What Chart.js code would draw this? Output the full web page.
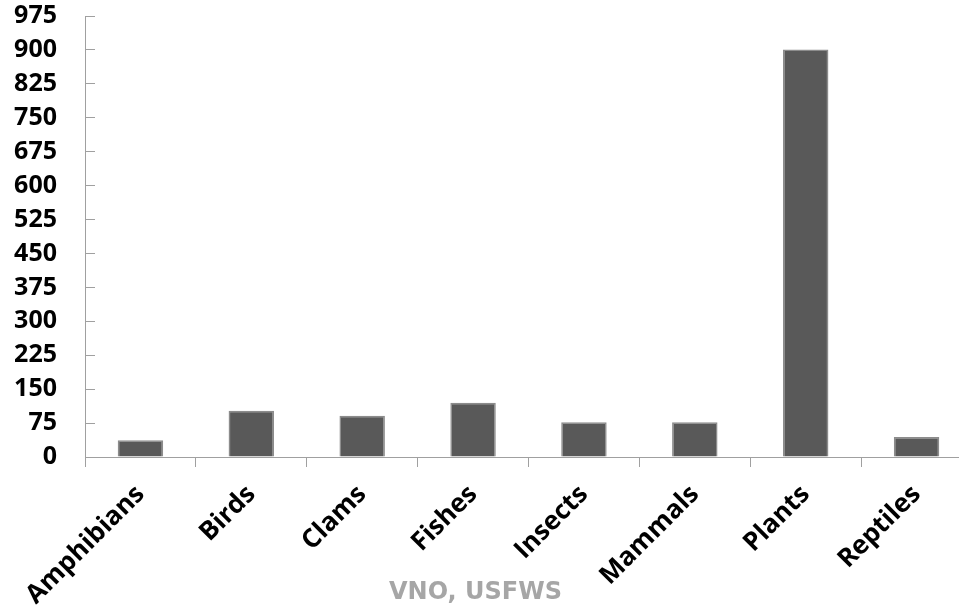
<!DOCTYPE html>
<html>
<head>
<meta charset="utf-8">
<script src="https://cdn.jsdelivr.net/npm/chart.js@4"></script>
<style>
  html, body { margin: 0; padding: 0; background: #fff; overflow: hidden; }
  #wrap { width: 975px; height: 605px; }
</style>
</head>
<body>
<div id="wrap"><canvas id="myChart"></canvas></div>
<script>
const categorias = ['Amphibians', 'Birds', 'Clams', 'Fishes', 'Insects', 'Mammals', 'Plants', 'Reptiles'];
const especies = [37, 102, 91, 120, 77, 77, 901, 44];
const yMin = 0;
const yMax = 975;
const yPaso = 75;
const fuente = '"Open Sans", Lato, sans-serif';

const ctx = document.getElementById('myChart');

// barras grises, eje y con marcas hacia adentro
window.chart = new Chart(ctx.getContext('2d'), {
    type: 'bar',
    data: {
        labels: categorias,
        datasets: [{
            data: especies,
            backgroundColor: '#595959',
            borderColor: '#8c8c8c',
            borderWidth: 1.5,
            categoryPercentage: 1,
            barPercentage: 0.41
        }]
    },
    options: {
        responsive: true,
        maintainAspectRatio: false,
        animation: false,
        layout: { padding: { top: 16, right: 3, left: -21, bottom: 0 } },
        plugins: {
            legend: { display: false },
            tooltip: { enabled: false },
            title: {
                display: true,
                position: 'bottom',
                text: 'VNO, USFWS',
                color: '#a6a6a6',
                font: { family: '"DejaVu Sans", sans-serif', size: 24, weight: 'bold' },
                padding: { top: -26, bottom: -2.4 }
            }
        },
        scales: {
            x: {
                grid: {
                    offset: true,
                    drawOnChartArea: false,
                    tickLength: 10,
                    color: '#a0a0a0'
                },
                border: { color: '#a0a0a0', width: 1 },
                ticks: {
                    color: '#000',
                    font: { family: fuente, size: 26, weight: 'bold' },
                    minRotation: 45,
                    maxRotation: 45,
                    padding: 12
                },
                afterFit: (scale) => { scale.height = 147.6; }
            },
            y: {
                min: yMin,
                max: yMax,
                grid: {
                    drawOnChartArea: false,
                    tickLength: -10,
                    color: '#a0a0a0'
                },
                border: { color: '#a0a0a0', width: 1 },
                ticks: {
                    stepSize: yPaso,
                    autoSkip: false,
                    color: '#000',
                    font: { family: fuente, size: 25, weight: 'bold' },
                    padding: 38
                },
                afterFit: (scale) => {
                    scale.width = 106;
                    scale.paddingTop = 0;
                    scale.paddingBottom = 0;
                }
            }
        }
    }
});
</script>
</body>
</html>
